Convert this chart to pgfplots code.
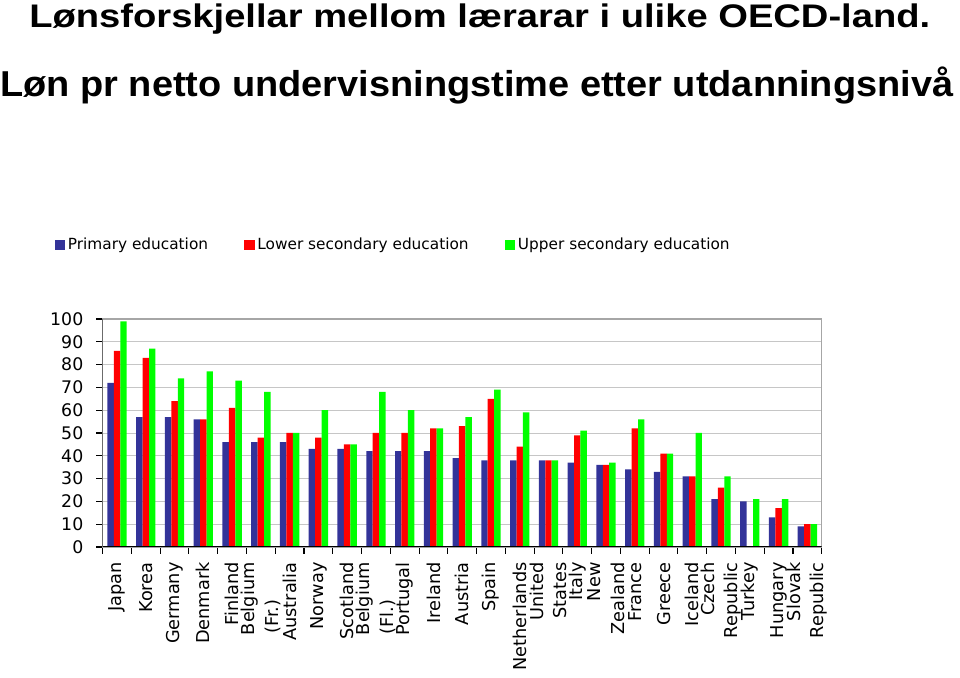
\documentclass[border=0pt]{standalone}
\usepackage{pgfplots}
\pgfplotsset{compat=1.18}
\usepackage{pgfplotstable}
\usepackage{fontspec}
\setmainfont{DejaVu Sans}
\newfontfamily\titlefont{Liberation Sans}
\definecolor{cprim}{HTML}{333399}
\definecolor{clow}{HTML}{FF0000}
\definecolor{cup}{HTML}{00FF00}
\pgfplotstableread{
country prim low up
Japan 72 86 99
Korea 57 83 87
Germany 57 64 74
Denmark 56 56 77
Finland 46 61 73
BelgiumFr 46 48 68
Australia 46 50 50
Norway 43 48 60
Scotland 43 45 45
BelgiumFl 42 50 68
Portugal 42 50 60
Ireland 42 52 52
Austria 39 53 57
Spain 38 65 69
Netherlands 38 44 59
UnitedStates 38 38 38
Italy 37 49 51
NewZealand 36 36 37
France 34 52 56
Greece 33 41 41
Iceland 31 31 50
CzechRepublic 21 26 31
Turkey 20 0 21
Hungary 13 17 21
SlovakRepublic 9 10 10
}\datatable
\begin{document}
\begin{tikzpicture}
\useasboundingbox (0,0) rectangle (720pt,508.5pt);
\node[anchor=base west, inner sep=0pt, font=\titlefont\bfseries\fontsize{24.5}{28}\selectfont] at (21.75pt,487.5pt) {\resizebox{675.75pt}{\height}{Lønsforskjellar mellom lærarar i ulike OECD-land.}};
\node[anchor=base west, inner sep=0pt, font=\titlefont\bfseries\fontsize{27}{32}\selectfont] at (0pt,435.75pt) {\resizebox{714.75pt}{\height}{Løn pr netto undervisningstime etter utdanningsnivå}};
\begin{axis}[
  at={(77pt,98.25pt)}, anchor=south west,
  scale only axis, width=539.3pt, height=171pt,
  xmin=-0.5, xmax=24.5, ymin=0, ymax=100,
  ybar=0pt, bar width=4.83pt,
  ytick={0,10,...,100},
  xtick={-0.5,0.5,...,24.5},
  xticklabels={},
  extra x ticks={0,1,...,24},
  extra x tick labels={Japan,Korea,Germany,Denmark,Finland,{Belgium\\(Fr.)\hspace*{28pt}},Australia,Norway,Scotland,{Belgium\\(Fl.)\hspace*{28pt}},Portugal,Ireland,Austria,Spain,Netherlands,{United\\States},Italy,{New\\Zealand},France,Greece,Iceland,{Czech\\Republic},Turkey,Hungary,{Slovak\\Republic}},
  extra x tick style={major tick length=0pt},
  xticklabel style={yshift=-8pt, rotate=90, anchor=east, align=right, font=\fontsize{13.3}{17.5}\selectfont},
  yticklabel style={xshift=-6pt, font=\fontsize{13}{14}\selectfont},
  /pgf/number format/assume math mode=true,
  tick pos=left, tick align=outside,
  major tick length=5pt,
  tick style={black, line width=0.8pt},
  ymajorgrids, grid style={gray!45, line width=0.6pt},
  axis line style={gray!70, line width=0.8pt},
  legend columns=3,
  legend style={draw=none, at={(0.4044,1.3246)}, anchor=center, font=\fontsize{11.5}{13}\selectfont, /tikz/every even column/.append style={column sep=25pt}},
  legend image code/.code={\fill[#1] (0pt,-4pt) rectangle (8pt,4pt);},
]
\addplot[fill=cprim, draw=none] table[x expr=\coordindex, y=prim] {\datatable};
\addplot[fill=clow, draw=none] table[x expr=\coordindex, y=low] {\datatable};
\addplot[fill=cup, draw=none] table[x expr=\coordindex, y=up] {\datatable};
\legend{Primary education, Lower secondary education, Upper secondary education}
\draw[black, line width=0.9pt] (rel axis cs:0,1) -- (rel axis cs:0,0) -- (rel axis cs:1,0);
\end{axis}
\end{tikzpicture}
\end{document}
